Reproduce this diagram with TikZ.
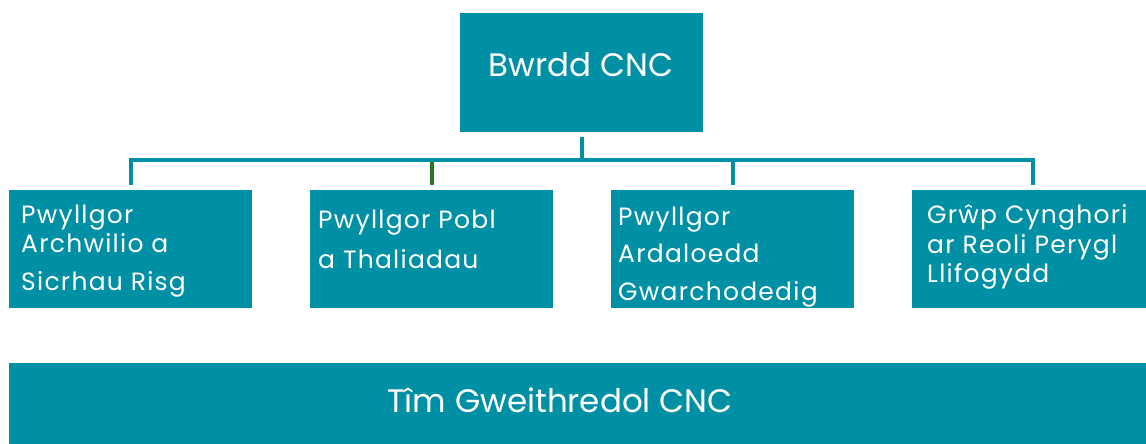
\documentclass[tikz,border=0pt]{standalone}
\usepackage{fontspec}
\setmainfont{Poppins}
\newfontfamily\boxfont[LetterSpace=5]{Poppins}
\definecolor{teal}{RGB}{0,144,166}
\definecolor{dropgreen}{RGB}{40,118,38}
\begin{document}
\begin{tikzpicture}[x=1pt,y=-1pt,
  box/.style={fill=teal,draw=none,inner sep=0pt,anchor=north west},
  conn/.style={draw=teal,line width=4pt},
  lbl/.style={text=white,anchor=base west,inner sep=0pt,font=\boxfont\fontsize{25}{29}\selectfont},
  big/.style={text=white,inner sep=0pt,font=\fontsize{32.5}{38}\selectfont}]
\useasboundingbox (0,0) rectangle (1146,444);
% boxes
\node[box,minimum width=243pt,minimum height=119pt] (top) at (460,13) {};
\node[box,minimum width=243pt,minimum height=118pt] (b1) at (9,190) {};
\node[box,minimum width=243pt,minimum height=118pt] (b2) at (310,190) {};
\node[box,minimum width=243pt,minimum height=118pt] (b3) at (611,190) {};
\node[box,minimum width=234pt,minimum height=118pt] (b4) at (912,190) {};
\node[box,minimum width=1137pt,minimum height=81pt] (exec) at (9,363) {};
% texts
\node[big,anchor=base] (ttop) at (581,77) {Bwrdd CNC};
\node[big,anchor=base] (texec) at (560,412) {Tîm Gweithredol CNC};
\node[lbl] (t1a) at (21,223) {Pwyllgor};
\node[lbl] (t1b) at (21,252) {Archwilio a};
\node[lbl] (t1c) at (21,290) {Sicrhau Risg};
\node[lbl] (t2a) at (318,228) {Pwyllgor Pobl};
\node[lbl] (t2b) at (318,268) {a Thaliadau};
\node[lbl] (t3a) at (618,225) {Pwyllgor};
\node[lbl] (t3b) at (618,262) {Ardaloedd};
\node[lbl] (t3c) at (618,300) {Gwarchodedig};
\node[lbl] (t4a) at (927,223) {Grŵp Cynghori};
\node[lbl] (t4b) at (927,253) {ar Reoli Perygl};
\node[lbl] (t4c) at (927,282) {Llifogydd};
% connectors
\coordinate (bus) at (0,160);
\coordinate (d4) at ([xshift=4pt,yshift=5pt]b4.north);
\draw[conn] ([yshift=-5pt]top.south) -- (top.south |- bus);
\draw[conn] ([yshift=5pt]b1.north) -- (b1.north |- bus) -- (d4 |- bus) -- (d4);
\draw[conn] (b3.north |- bus) -- ([yshift=5pt]b3.north);
\draw[conn,draw=dropgreen] ([yshift=-2pt]b2.north |- bus) -- ([yshift=5pt]b2.north);
\end{tikzpicture}
\end{document}
